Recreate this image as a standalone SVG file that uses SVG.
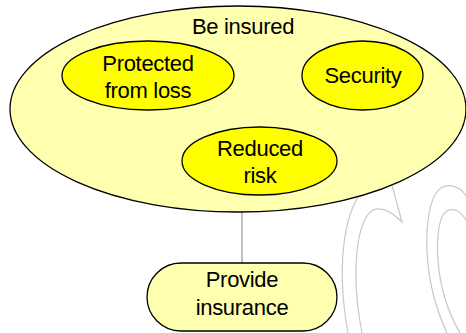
<svg xmlns="http://www.w3.org/2000/svg" width="466" height="333" viewBox="0 0 466 333">
<style>
.wm{fill:none;stroke:#c8c8c8;stroke-width:1.2}
.outer{fill:#ffffb0;stroke:#000;stroke-width:1.3}
.inner{fill:#ffff00;stroke:#000;stroke-width:1.3}
.pill{fill:#ffffb0;stroke:#000;stroke-width:1.3}
.t{font-family:"Liberation Sans",Arial,sans-serif;font-size:22px;fill:#000;text-anchor:middle;letter-spacing:-0.3px}
.conn{stroke:#999;stroke-width:1.2;fill:none}
</style>
<rect width="466" height="333" fill="#fff"/>
<g id="watermark">
<path class="wm" d="M368 185 C345 205 335 260 348 333"/>
<path class="wm" d="M390 178 L402 222 C392 212 382 206 373 210 C357 220 350 270 362 333"/>
<path class="wm" d="M466 196 C460 186 445 180 436 193 C424 212 420 275 447 333"/>
<path class="wm" d="M466 220 C460 210 450 205 443 215 C435 228 432 285 460 333"/>
</g>
<g id="connectors">
<line class="conn" x1="242" y1="212" x2="242" y2="263"/>
</g>
<g id="be-insured">
<ellipse class="outer" cx="238" cy="109" rx="228" ry="103"/>
<text class="t" x="243" y="34">Be insured</text>
</g>
<g id="protected">
<ellipse class="inner" cx="148" cy="75.5" rx="86" ry="34.5"/>
<text class="t" x="148" y="71">Protected</text>
<text class="t" x="148" y="98">from loss</text>
</g>
<g id="security">
<ellipse class="inner" cx="362.5" cy="75.5" rx="60.5" ry="34.5"/>
<text class="t" x="363" y="83">Security</text>
</g>
<g id="reduced-risk">
<ellipse class="inner" cx="259.5" cy="161" rx="77.5" ry="34"/>
<text class="t" x="260" y="156">Reduced</text>
<text class="t" x="260" y="183">risk</text>
</g>
<g id="provide-insurance">
<rect class="pill" x="147" y="263" width="190" height="68" rx="34" ry="34"/>
<text class="t" x="242" y="287">Provide</text>
<text class="t" x="242" y="315">insurance</text>
</g>
</svg>
